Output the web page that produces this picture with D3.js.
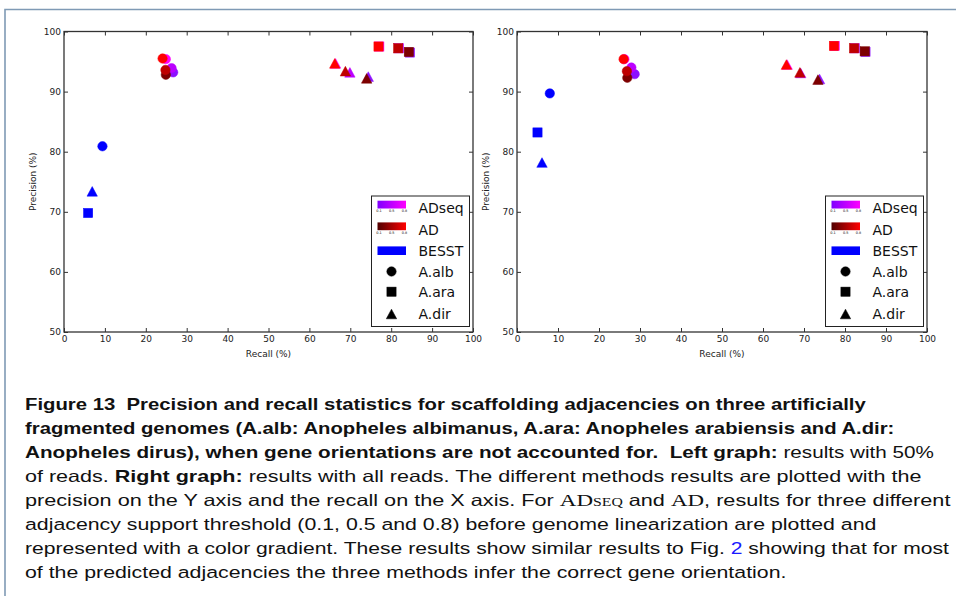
<!DOCTYPE html>
<html>
<head>
<meta charset="utf-8">
<script src="https://cdn.jsdelivr.net/npm/d3@7"></script>
<style>
  html, body { margin: 0; padding: 0; background: #fff; }
  svg { display: block; }
  .cap { white-space: pre; }
</style>
</head>
<body>
<svg id="fig" width="956" height="596"></svg>
<script>
// ---- data -------------------------------------------------------------
const thresholds = [0.1, 0.5, 0.8];
const genomes = ["A.alb", "A.ara", "A.dir"];
const genomeShapes = ["circle", "square", "triangle"];
const recallTicks = [0, 10, 20, 30, 40, 50, 60, 70, 80, 90, 100];
const precisionTicks = [50, 60, 70, 80, 90, 100];
const legendLabels = ["ADseq", "AD", "BESST", "A.alb", "A.ara", "A.dir"];

// 50% of reads — rows: genome, columns: threshold 0.1 / 0.5 / 0.8
const halfAdRecall       = [[24.9, 24.8, 24.1], [84.3, 81.7, 76.9], [74.0, 68.8, 66.2]];
const halfAdPrecision    = [[92.8, 93.6, 95.5], [96.6, 97.2, 97.5], [92.2, 93.4, 94.7]];
const halfAdseqRecall    = [[26.7, 26.3, 24.9], [84.6, 81.9, 77.1], [74.4, 69.9, 66.4]];
const halfAdseqPrecision = [[93.2, 93.9, 95.4], [96.5, 97.2, 97.5], [92.5, 93.2, 94.7]];
const halfBesstRecall    = [9.4, 5.9, 6.9];
const halfBesstPrecision = [80.9, 69.8, 73.4];

// all reads
const allAdRecall       = [[26.9, 26.8, 26.0], [84.8, 82.2, 77.3], [73.4, 69.0, 65.7]];
const allAdPrecision    = [[92.3, 93.4, 95.4], [96.7, 97.2, 97.6], [92.0, 93.2, 94.5]];
const allAdseqRecall    = [[28.7, 27.9, 26.2], [85.0, 82.4, 77.5], [73.8, 69.2, 65.9]];
const allAdseqPrecision = [[92.9, 94.0, 95.4], [96.6, 97.2, 97.6], [92.1, 93.1, 94.5]];
const allBesstRecall    = [8.0, 5.0, 6.1];
const allBesstPrecision = [89.7, 83.2, 78.2];

// colours per threshold
const adColors    = ["#7d0000", "#bf0000", "#ff0000"];
const adseqColors = ["#8c10ff", "#bb00ff", "#ff00ff"];
const besstColor  = "#0000ff";

// ---- drawing ----------------------------------------------------------
const svg = d3.select("#fig");
const INK = "#333";
const AXIS_FONT = "DejaVu Sans, Bitstream Vera Sans, sans-serif";

// figure frame (top and left rules)
svg.append("path")
  .attr("d", "M5,596 V9.5 H956")
  .attr("fill", "none").attr("stroke", "#7f9ab5").attr("stroke-width", 1.6);

const defs = svg.append("defs");
function gradient(id, c0, c1) {
  const g = defs.append("linearGradient").attr("id", id)
    .attr("x1", "0%").attr("x2", "100%").attr("y1", "0%").attr("y2", "0%");
  g.append("stop").attr("offset", "0%").attr("stop-color", c0);
  g.append("stop").attr("offset", "100%").attr("stop-color", c1);
}
gradient("gAdseq", "#7f00ff", "#ff00ff");
gradient("gAd", "#500000", "#ff0000");

function marker(g, shape, cx, cy, color) {
  if (shape === "circle") {
    g.append("circle").attr("cx", cx).attr("cy", cy).attr("r", 4.7)
      .attr("fill", color).attr("stroke", color).attr("stroke-width", 0.5);
  } else if (shape === "square") {
    g.append("rect").attr("x", cx - 4.6).attr("y", cy - 4.6)
      .attr("width", 9.2).attr("height", 9.2)
      .attr("fill", color).attr("stroke", color).attr("stroke-width", 0.5);
  } else {
    const w = 5.2, h = 4.8;
    g.append("path")
      .attr("d", `M${cx},${cy - h} L${cx + w},${cy + h} L${cx - w},${cy + h} Z`)
      .attr("fill", color).attr("stroke", color).attr("stroke-width", 0.5);
  }
}

function panel(x0, x1, d) {
  const x = d3.scaleLinear().domain([0, 100]).range([x0, x1]);
  const y = d3.scaleLinear().domain([50, 100]).range([332, 31.5]);
  const g = svg.append("g");

  const styleAxis = sel => {
    sel.select(".domain").remove();
    sel.selectAll(".tick line").attr("stroke", INK).attr("stroke-width", 1);
    sel.selectAll(".tick text").attr("fill", "#222")
      .attr("font-family", AXIS_FONT).attr("font-size", 9);
  };

  g.append("g").attr("transform", `translate(0,${y(50)})`)
    .call(d3.axisBottom(x).tickValues(recallTicks).tickSizeInner(-4).tickSizeOuter(0).tickPadding(4))
    .call(styleAxis);
  g.append("g").attr("transform", `translate(0,${y(100)})`)
    .call(d3.axisTop(x).tickValues(recallTicks).tickSizeInner(-4).tickSizeOuter(0).tickFormat(""))
    .call(styleAxis);
  g.append("g").attr("transform", `translate(${x(0)},0)`)
    .call(d3.axisLeft(y).tickValues(precisionTicks).tickSizeInner(-4).tickSizeOuter(0).tickPadding(3))
    .call(styleAxis);
  g.append("g").attr("transform", `translate(${x(100)},0)`)
    .call(d3.axisRight(y).tickValues(precisionTicks).tickSizeInner(-4).tickSizeOuter(0).tickFormat(""))
    .call(styleAxis);

  // spines
  g.append("rect")
    .attr("x", x(0)).attr("y", y(100))
    .attr("width", x(100) - x(0)).attr("height", y(50) - y(100))
    .attr("fill", "none").attr("stroke", INK).attr("stroke-width", 1.3);

  g.append("text")
    .attr("x", (x(0) + x(100)) / 2).attr("y", 357)
    .attr("text-anchor", "middle").attr("font-family", AXIS_FONT)
    .attr("font-size", 9).attr("fill", "#222").text("Recall (%)");
  g.append("text")
    .attr("transform", `translate(${x(0) - 28},${(y(50) + y(100)) / 2}) rotate(-90)`)
    .attr("text-anchor", "middle").attr("font-family", AXIS_FONT)
    .attr("font-size", 9).attr("fill", "#222").text("Precision (%)");

  // points: ADseq first, AD on top, then BESST
  const pts = g.append("g");
  genomes.forEach((gn, i) => {
    thresholds.forEach((t, j) => {
      marker(pts, genomeShapes[i], x(d.adseqR[i][j]), y(d.adseqP[i][j]), adseqColors[j]);
    });
  });
  genomes.forEach((gn, i) => {
    thresholds.forEach((t, j) => {
      marker(pts, genomeShapes[i], x(d.adR[i][j]), y(d.adP[i][j]), adColors[j]);
    });
  });
  genomes.forEach((gn, i) => {
    marker(pts, genomeShapes[i], x(d.bR[i]), y(d.bP[i]), besstColor);
  });

  // legend
  const lx = x(100) - 101.5, ly = 196;
  const lg = g.append("g").attr("transform", `translate(${lx},${ly})`);
  lg.append("rect").attr("x", 0).attr("y", 0).attr("width", 98).attr("height", 130.5)
    .attr("fill", "#fff").attr("stroke", "#222").attr("stroke-width", 1);
  const rowY = [12.3, 34, 54.7, 75.5, 95.7, 118];
  const swatches = ["url(#gAdseq)", "url(#gAd)", besstColor];
  swatches.forEach((fill, k) => {
    lg.append("rect").attr("x", 6).attr("y", rowY[k] - (k === 2 ? 4.3 : 7.6))
      .attr("width", 28.5).attr("height", k === 2 ? 8.6 : 7.8).attr("fill", fill);
    if (k < 2) {
      thresholds.forEach((t, j) => {
        lg.append("text")
          .attr("x", 6 + [1.5, 14.25, 27][j]).attr("y", rowY[k] + 4)
          .attr("text-anchor", "middle").attr("font-family", AXIS_FONT)
          .attr("font-size", 3.4).attr("fill", "#000").text(t);
      });
    }
  });
  genomeShapes.forEach((s, k) => marker(lg, s, 20, rowY[k + 3], "#000"));
  legendLabels.forEach((lab, k) => {
    lg.append("text").attr("x", 47).attr("y", rowY[k] + 5)
      .attr("font-family", AXIS_FONT).attr("font-size", 14).attr("fill", "#111").text(lab);
  });
}

panel(64, 473, {
  adR: halfAdRecall, adP: halfAdPrecision,
  adseqR: halfAdseqRecall, adseqP: halfAdseqPrecision,
  bR: halfBesstRecall, bP: halfBesstPrecision
});
panel(517, 927, {
  adR: allAdRecall, adP: allAdPrecision,
  adseqR: allAdseqRecall, adseqP: allAdseqPrecision,
  bR: allBesstRecall, bP: allBesstPrecision
});

// ---- caption ----------------------------------------------------------
const SANS = "Liberation Sans, Arial, sans-serif";
const SERIF = "Liberation Serif, DejaVu Serif, serif";
// segments: [text, style]  b = bold, n = normal, r = roman, rs = roman small caps, l = link
const captionLines = [
  [["Figure 13  Precision and recall statistics for scaffolding adjacencies on three artificially", "b"]],
  [["fragmented genomes (A.alb: Anopheles albimanus, A.ara: Anopheles arabiensis and A.dir:", "b"]],
  [["Anopheles dirus), when gene orientations are not accounted for.  Left graph:", "b"], [" results with 50%", "n"]],
  [["of reads. ", "n"], ["Right graph:", "b"], [" results with all reads. The different methods results are plotted with the", "n"]],
  [["precision on the Y axis and the recall on the X axis. For ", "n"], ["AD", "r"], ["seq", "rs"], [" and ", "n"], ["AD", "r"], [", results for three different", "n"]],
  [["adjacency support threshold (0.1, 0.5 and 0.8) before genome linearization are plotted and", "n"]],
  [["represented with a color gradient. These results show similar results to Fig. ", "n"], ["2", "l"], [" showing that for most", "n"]],
  [["of the predicted adjacencies the three methods infer the correct gene orientation.", "n"]]
];
const lineEnds = [867, 895, 935, 922, 951, 877, 950, 787];
const capX = 25, capY0 = 410, capStep = 24;

captionLines.forEach((segs, i) => {
  const t = svg.append("text").attr("class", "cap")
    .attr("x", 0).attr("y", 0)
    .attr("font-family", SANS).attr("font-size", 16.5).attr("fill", "#111");
  segs.forEach(([s, st]) => {
    const ts = t.append("tspan").text(s);
    if (st === "b") ts.attr("font-weight", "bold");
    if (st === "r" || st === "rs") ts.attr("font-family", SERIF).attr("font-size", 17.5);
    if (st === "rs") ts.style("font-variant", "small-caps");
    if (st === "l") ts.attr("fill", "#1a1aff");
  });
  const w = t.node().getBBox().width;
  const k = (lineEnds[i] - capX) / w;
  t.attr("transform", `translate(${capX},${capY0 + i * capStep}) scale(${k},1)`);
});
</script>
</body>
</html>
